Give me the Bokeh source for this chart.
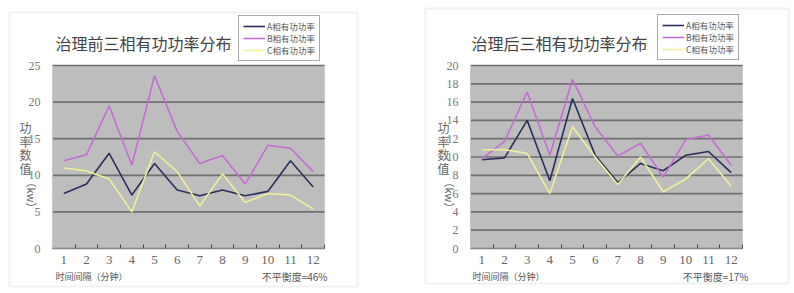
import math
from bokeh.plotting import figure
from bokeh.layouts import row
from bokeh.models import (FixedTicker, Label, Legend, LegendItem, BoxAnnotation,
                          Range1d)
from bokeh.embed import file_html
from bokeh.resources import INLINE

# ---------------- data ----------------
minutes = list(range(1, 13))
tick_labels = [str(m) for m in minutes]

before_title = "治理前三相有功功率分布"
before_A = [7.5, 8.8, 13.0, 7.3, 11.6, 8.0, 7.2, 8.0, 7.2, 7.8, 12.0, 8.4]
before_B = [12.0, 12.8, 19.5, 11.4, 23.6, 16.0, 11.6, 12.7, 8.8, 14.1, 13.7, 10.5]
before_C = [11.0, 10.6, 9.5, 5.0, 13.2, 10.5, 5.8, 10.2, 6.3, 7.5, 7.3, 5.4]
before_yticks = [0, 5, 10, 15, 20, 25]
before_note = "不平衡度=46%"

after_title = "治理后三相有功功率分布"
after_A = [9.7, 9.9, 14.0, 7.4, 16.4, 10.2, 7.2, 9.3, 8.5, 10.2, 10.6, 8.3]
after_B = [9.8, 11.7, 17.1, 10.2, 18.5, 13.3, 10.1, 11.5, 7.8, 11.9, 12.4, 9.1]
after_C = [10.8, 10.8, 10.4, 6.0, 13.3, 10.0, 7.0, 10.0, 6.2, 7.6, 9.8, 6.8]
after_yticks = [0, 2, 4, 6, 8, 10, 12, 14, 16, 18, 20]
after_note = "不平衡度=17%"

series_names = ["A相有功功率", "B相有功功率", "C相有功功率"]
series_colors = ["#2c2f5c", "#c46ed4", "#eeee9c"]
x_title = "时间间隔（分钟）"
y_chars = ["功", "率", "数", "值"]
y_unit = "（kw）"

CJK = "Noto Sans CJK SC"
SERIF = "Liberation Serif"
W, H = 397, 293


def make_panel(title, A, B, C, yticks, note, plot_px, outer_px, title_cx, ylab_x,
               legend_px, xtitle_x, note_x):
    # plot_px: (left, right, top, bottom) of the grey plotting area, canvas pixels
    pl, pr, pt, pb = plot_px
    x0, x1 = 0.5, 12.5
    y0, y1 = yticks[0], yticks[-1]
    ux = (pr - pl) / (x1 - x0)
    uy = (pb - pt) / (y1 - y0)
    xr = Range1d(x0 - pl / ux, x1 + (W - pr) / ux)
    yr = Range1d(y0 - (H - pb) / uy, y1 + pt / uy)

    p = figure(width=W, height=H, output_backend="svg", toolbar_location=None,
               x_range=xr, y_range=yr, min_border=0)
    p.background_fill_color = "white"
    p.border_fill_color = "white"
    p.outline_line_color = None
    p.grid.visible = False

    # outer light frame (canvas pixels, origin bottom-left)
    ol, orr, ot, ob = outer_px
    p.add_layout(BoxAnnotation(left=ol, right=orr, top=H - ot, bottom=H - ob,
                               left_units="screen", right_units="screen",
                               top_units="screen", bottom_units="screen",
                               fill_color=None, line_color="#d2d2d2", line_width=2,
                               level="underlay"))
    # grey plotting area
    p.add_layout(BoxAnnotation(left=x0, right=x1, bottom=y0, top=y1,
                               fill_color="#bdbdbd", fill_alpha=1,
                               line_color="#a5a5a5", line_width=1, level="underlay"))
    # horizontal grid lines
    p.segment(x0=[x0] * len(yticks), x1=[x1] * len(yticks), y0=yticks, y1=yticks,
              line_color="#717171", line_width=1.7)

    # axes
    p.xaxis.fixed_location = y0
    p.xaxis.bounds = (x0, x1)
    p.xaxis.ticker = FixedTicker(ticks=minutes,
                                 minor_ticks=[m + 0.5 for m in range(0, 13)])
    p.xaxis.major_label_overrides = {m: s for m, s in zip(minutes, tick_labels)}
    p.xaxis.major_tick_line_color = None
    p.xaxis.minor_tick_in = 4
    p.xaxis.minor_tick_out = 0
    p.xaxis.minor_tick_line_color = "#4a4a4a"
    p.xaxis.axis_line_color = "#8a8a8a"
    p.xaxis.major_label_text_font = SERIF
    p.xaxis.major_label_text_font_size = "13px"
    p.xaxis.major_label_text_color = "#666666"
    p.xaxis.major_label_standoff = 1

    p.yaxis.fixed_location = x0
    p.yaxis.bounds = (y0, y1)
    p.yaxis.ticker = FixedTicker(ticks=yticks)
    p.yaxis.major_tick_line_color = None
    p.yaxis.minor_tick_line_color = None
    p.yaxis.axis_line_color = "#c8c8c8"
    p.yaxis.major_label_text_font = SERIF
    p.yaxis.major_label_text_font_size = "12px"
    p.yaxis.major_label_text_color = "#777777"
    p.yaxis.major_label_standoff = 6

    renderers = []
    for vals, col in zip([A, B, C], series_colors):
        renderers.append(p.line(minutes, vals, line_color=col, line_width=1.6))

    legend = Legend(items=[LegendItem(label=n, renderers=[r])
                           for n, r in zip(series_names, renderers)],
                    location=(legend_px[0], H - legend_px[1]))
    legend.label_text_font = CJK
    legend.label_text_font_size = "8.5px"
    legend.label_text_line_height = 1.0
    legend.label_text_color = "#555555"
    legend.glyph_width = 22
    legend.glyph_height = 8
    legend.label_height = 8
    legend.label_standoff = 2
    legend.spacing = 0
    legend.padding = 4
    legend.margin = 0
    legend.border_line_color = "#555555"
    legend.border_line_width = 1
    legend.background_fill_color = "white"
    legend.background_fill_alpha = 1
    p.add_layout(legend, "center")

    p.add_layout(Label(x=title_cx, y=H - 42, x_units="screen", y_units="screen",
                       text=title, text_font=CJK, text_font_size="16px",
                       text_color="#444444", text_align="center",
                       text_baseline="middle"))

    # vertical y axis title
    for i, ch in enumerate(y_chars):
        p.add_layout(Label(x=ylab_x, y=H - (127 + i * 13.5), x_units="screen",
                           y_units="screen", text=ch, text_font=CJK,
                           text_font_size="12px", text_color="#666666",
                           text_align="center", text_baseline="middle"))
    p.add_layout(Label(x=ylab_x + 6, y=H - 176, x_units="screen",
                       y_units="screen", text=y_unit, text_font=CJK,
                       text_font_size="11px", text_color="#666666",
                       text_align="left", text_baseline="middle",
                       angle=-math.pi / 2))

    p.add_layout(Label(x=xtitle_x, y=H - 276, x_units="screen", y_units="screen",
                       text=x_title, text_font=CJK, text_font_size="9px",
                       text_color="#555555", text_align="left",
                       text_baseline="middle"))
    p.add_layout(Label(x=note_x, y=H - 276, x_units="screen", y_units="screen",
                       text=note, text_font=CJK, text_font_size="10px",
                       text_color="#555555", text_align="right",
                       text_baseline="middle"))
    return p


p1 = make_panel(before_title, before_A, before_B, before_C, before_yticks, before_note,
                plot_px=(52, 324, 65, 248), outer_px=(9, 357, 12, 286),
                title_cx=143, ylab_x=25, legend_px=(238, 61),
                xtitle_x=55, note_x=327)
p2 = make_panel(after_title, after_A, after_B, after_C, after_yticks, after_note,
                plot_px=(73, 345, 65, 248), outer_px=(28, 391, 8, 283),
                title_cx=162, ylab_x=46, legend_px=(260, 60),
                xtitle_x=75, note_x=351)

layout = row(p1, p2)
open("out.html", "w").write(file_html(layout, INLINE))
